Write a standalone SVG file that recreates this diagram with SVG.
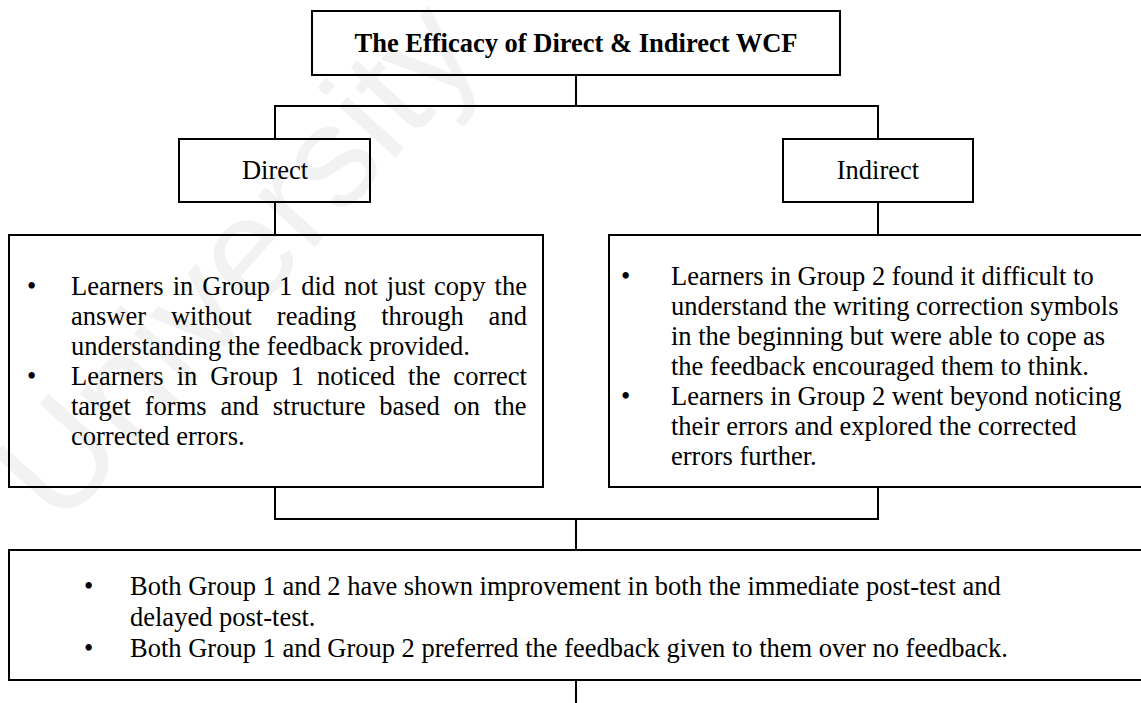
<svg xmlns="http://www.w3.org/2000/svg" width="1141" height="703" viewBox="0 0 1141 703">
  <style>
    .box { fill: none; stroke: #000; stroke-width: 2; }
    .wire { fill: none; stroke: #000; stroke-width: 2; }
    .t { font-family: "Liberation Serif", "Times New Roman", serif; font-size: 26.5px; fill: #000; }
    .b { font-weight: bold; }
    .mid { text-anchor: middle; }
    .mark { font-family: "Liberation Sans", Arial, sans-serif; font-size: 145px; fill: #f2f2f2; }
  </style>

  <rect width="1141" height="703" fill="#fff"/>

  <!-- faint background stamp -->
  <text class="mark" transform="translate(60,530) rotate(-48)">University</text>

  <!-- connectors -->
  <g id="connectors">
    <path class="wire" d="M576,75 V106"/>
    <path class="wire" d="M275,139 V106 H878 V139"/>
    <path class="wire" d="M275,202 V235"/>
    <path class="wire" d="M878,202 V235"/>
    <path class="wire" d="M275,487 V519 H878 V487"/>
    <path class="wire" d="M576,519 V550"/>
    <path class="wire" d="M576,680 V703"/>
  </g>

  <g id="title">
    <rect class="box" x="312" y="11" width="528" height="64"/>
    <text class="t b mid" x="576" y="52">The Efficacy of Direct &amp; Indirect WCF</text>
  </g>

  <g id="direct">
    <rect class="box" x="179" y="139" width="191" height="63"/>
    <text class="t mid" x="275" y="179">Direct</text>
  </g>

  <g id="indirect">
    <rect class="box" x="783" y="139" width="190" height="63"/>
    <text class="t mid" x="878" y="179">Indirect</text>
  </g>

  <g id="direct-findings">
    <rect class="box" x="9" y="235" width="534" height="252"/>
    <text class="t" x="27" y="295">•</text>
    <text class="t" x="71" y="295" style="word-spacing:2.35px">Learners in Group 1 did not just copy the</text>
    <text class="t" x="71" y="325" style="word-spacing:18.3px">answer without reading through and</text>
    <text class="t" x="71" y="355">understanding the feedback provided.</text>
    <text class="t" x="27" y="385">•</text>
    <text class="t" x="71" y="385" style="word-spacing:6.33px">Learners in Group 1 noticed the correct</text>
    <text class="t" x="71" y="415" style="word-spacing:7.3px">target forms and structure based on the</text>
    <text class="t" x="71" y="445">corrected errors.</text>
  </g>

  <g id="indirect-findings">
    <rect class="box" x="609" y="235" width="540" height="252"/>
    <text class="t" x="621" y="285">•</text>
    <text class="t" x="671" y="285">Learners in Group 2 found it difficult to</text>
    <text class="t" x="671" y="315">understand the writing correction symbols</text>
    <text class="t" x="671" y="345">in the beginning but were able to cope as</text>
    <text class="t" x="671" y="375">the feedback encouraged them to think.</text>
    <text class="t" x="621" y="405">•</text>
    <text class="t" x="671" y="405">Learners in Group 2 went beyond noticing</text>
    <text class="t" x="671" y="435">their errors and explored the corrected</text>
    <text class="t" x="671" y="465">errors further.</text>
  </g>

  <g id="outcome">
    <rect class="box" x="9" y="550" width="1140" height="130"/>
    <text class="t" x="84" y="595">•</text>
    <text class="t" x="130" y="595">Both Group 1 and 2 have shown improvement in both the immediate post-test and</text>
    <text class="t" x="130" y="626">delayed post-test.</text>
    <text class="t" x="84" y="657">•</text>
    <text class="t" x="130" y="657">Both Group 1 and Group 2 preferred the feedback given to them over no feedback.</text>
  </g>
</svg>
